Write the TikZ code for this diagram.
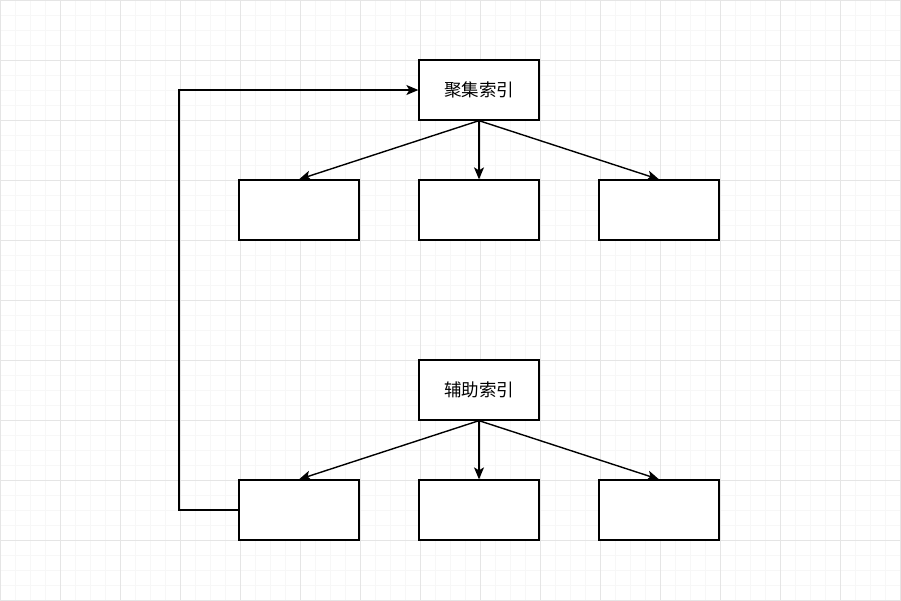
\documentclass[tikz,border=0pt]{standalone}
\usepackage{fontspec}
\newfontfamily\cjk{Noto Sans CJK SC}
\usetikzlibrary{arrows.meta}
\begin{document}
\begin{tikzpicture}[x=1pt,y=-1pt,
  box/.style={draw=black,fill=white,line width=1.3pt,minimum width=120pt,minimum height=60pt,inner sep=0pt,font=\cjk\fontsize{17.5pt}{19pt}\selectfont},
  conn/.style={line width=1.4pt,-{Stealth[length=12pt,width=10pt,inset=3pt]}},
  minorgrid/.style={draw=black!3,line width=0.7pt},
  majorgrid/.style={draw=black!10,line width=0.8pt}]
\useasboundingbox (0,0) rectangle (901,600);
\fill[white] (0,0) rectangle (901,600);
\foreach \i in {0,...,60} {\draw[minorgrid] (\i*15,0) -- (\i*15,600);}
\foreach \j in {0,...,40} {\draw[minorgrid] (0,\j*15) -- (901,\j*15);}
\foreach \i in {0,...,15} {\draw[majorgrid] (\i*60,0) -- (\i*60,600);}
\foreach \j in {0,...,10} {\draw[majorgrid] (0,\j*60) -- (901,\j*60);}
\node[box] (c) at (479,90) {聚集索引};
\node[box] (c1) at (299,210) {};
\node[box] (c2) at (479,210) {};
\node[box] (c3) at (659,210) {};
\node[box] (s) at (479,390) {辅助索引};
\node[box] (s1) at (299,510) {};
\node[box] (s2) at (479,510) {};
\node[box] (s3) at (659,510) {};
\draw[conn] (c.south) -- (c1.north);
\draw[conn] (c.south) -- (c2.north);
\draw[conn] (c.south) -- (c3.north);
\draw[conn] (s.south) -- (s1.north);
\draw[conn] (s.south) -- (s2.north);
\draw[conn] (s.south) -- (s3.north);
\draw[conn] (s1.west) -- (179,510) -- (179,90) -- (c.west);
\end{tikzpicture}
\end{document}
